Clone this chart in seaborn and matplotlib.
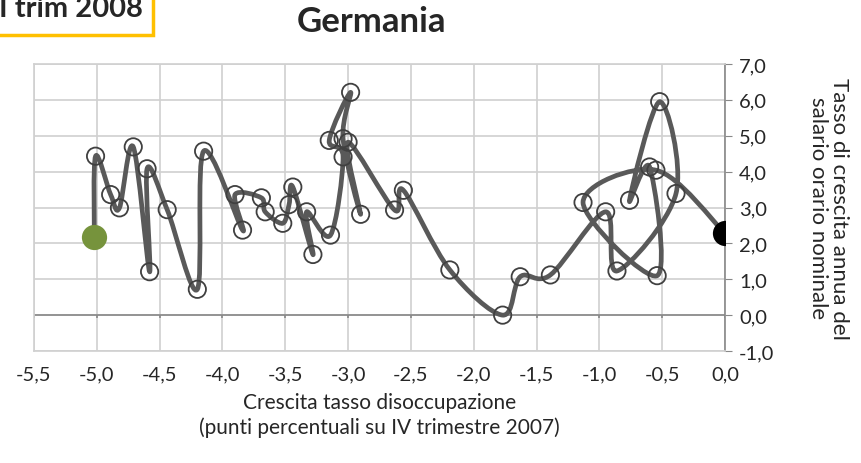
import numpy as np
import pandas as pd
import matplotlib
matplotlib.use('Agg')
import matplotlib.pyplot as plt
import seaborn as sns
from matplotlib.path import Path
from matplotlib.patches import PathPatch, Rectangle
from matplotlib.ticker import FuncFormatter

# punti in ordine cronologico: crescita tasso disoccupazione (x) e salario orario (y)
disocc = [0.00, -0.55, -1.13, -0.54, -0.60, -0.76, -0.52, -0.39, -0.86, -0.95,
          -1.39, -1.63, -1.77, -2.19, -2.56, -2.63, -3.00, -2.90, -3.04, -2.98,
          -3.15, -3.04, -3.14, -3.33, -3.28, -3.44, -3.47, -3.52, -3.66, -3.69,
          -3.90, -3.84, -4.15, -4.20, -4.44, -4.60, -4.58, -4.71, -4.82, -4.89,
          -5.01, -5.02]
salario = [2.28, 4.04, 3.14, 1.10, 4.13, 3.20, 5.95, 3.39, 1.23, 2.88,
           1.12, 1.07, 0.00, 1.26, 3.48, 2.93, 4.82, 2.81, 4.92, 6.21,
           4.87, 4.41, 2.23, 2.88, 1.69, 3.57, 3.08, 2.56, 2.88, 3.27,
           3.36, 2.37, 4.57, 0.72, 2.94, 4.08, 1.21, 4.69, 2.99, 3.36,
           4.43, 2.17]

xticks = np.arange(-5.5, 0.01, 0.5)
yticks = np.arange(-1.0, 7.01, 1.0)

df = pd.DataFrame({'disocc': disocc, 'salario': salario})

sns.set_style('white')
plt.rcParams['font.family'] = ['Lato', 'DejaVu Sans']

fig = plt.figure(figsize=(8.62, 4.64), dpi=100)
ax = fig.add_axes([34 / 862, 1 - 352 / 464, 691 / 862, 287 / 464])

# linea smussata (bezier come in Excel)
pts = df[['disocc', 'salario']].to_numpy()
ext = np.vstack([pts[0], pts, pts[-1]])
verts = [pts[0]]
codes = [Path.MOVETO]
for i in range(len(pts) - 1):
    p0, p1, p2, p3 = ext[i], ext[i + 1], ext[i + 2], ext[i + 3]
    verts += [p1 + (p2 - p0) / 6, p2 - (p3 - p1) / 6, p2]
    codes += [Path.CURVE4] * 3
ax.add_patch(PathPatch(Path(verts, codes), facecolor='none', edgecolor='#595959',
                       lw=3.4, capstyle='round', joinstyle='round', zorder=3))

# cerchi vuoti
sns.scatterplot(data=df.iloc[1:-1], x='disocc', y='salario', ax=ax, s=155,
                marker='o', color='none', edgecolor='#404040', linewidth=1.3, zorder=4)
ax.collections[-1].set_facecolor('none')
ax.collections[-1].set_edgecolor('#404040')

# inizio e fine
sns.scatterplot(data=df.iloc[[0]], x='disocc', y='salario', ax=ax, s=330,
                color='black', linewidth=0, zorder=5)
sns.scatterplot(data=df.iloc[[-1]], x='disocc', y='salario', ax=ax, s=330,
                color='#76933C', linewidth=0, zorder=5)

ax.set_xlim(-5.5, 0)
ax.set_ylim(-1, 7)
ax.set_xticks(xticks)
ax.set_yticks(yticks)
fmt = FuncFormatter(lambda v, p: f'{v:.1f}'.replace('.', ','))
ax.xaxis.set_major_formatter(fmt)
ax.yaxis.set_major_formatter(fmt)
ax.grid(True, color='#D0D0D0', lw=1.2)
ax.set_axisbelow(True)

for s in ['left', 'top', 'bottom']:
    ax.spines[s].set_color('#D0D0D0')
    ax.spines[s].set_linewidth(1.2)
ax.spines['right'].set_color('#888888')
ax.spines['right'].set_linewidth(1.2)

ax.axhline(0, color='#888888', lw=1.2, zorder=2)
ax.vlines(xticks, -0.09, 0, color='#888888', lw=1.2, zorder=2)

ax.yaxis.tick_right()
ax.yaxis.set_label_position('right')
ax.tick_params(axis='y', right=True, length=5, color='#888888', pad=5, labelsize=14.5)
ax.tick_params(axis='x', length=0, pad=10, labelsize=14.5)

ax.set_xlabel('Crescita tasso disoccupazione\n(punti percentuali su IV trimestre 2007)',
              fontsize=15, labelpad=7, linespacing=1.3)
ax.set_ylabel('Tasso di crescita annua del\nsalario orario nominale',
              fontsize=16, rotation=270, labelpad=54, linespacing=1.05)

fig.text(372 / 862, 1 - 22 / 464, 'Germania', fontsize=25, fontweight='bold',
         ha='center', va='center')

fig.patches.append(Rectangle((-0.02, 1 - 36 / 464), 153 / 862 + 0.02, 0.2,
                             transform=fig.transFigure, facecolor='white',
                             edgecolor='#FFC000', lw=2.5))
fig.text(143 / 862, 1 - 17 / 464, 'I trim 2008', fontsize=21, fontweight='bold',
         ha='right', va='baseline')

fig.savefig('out.png', dpi=100)
